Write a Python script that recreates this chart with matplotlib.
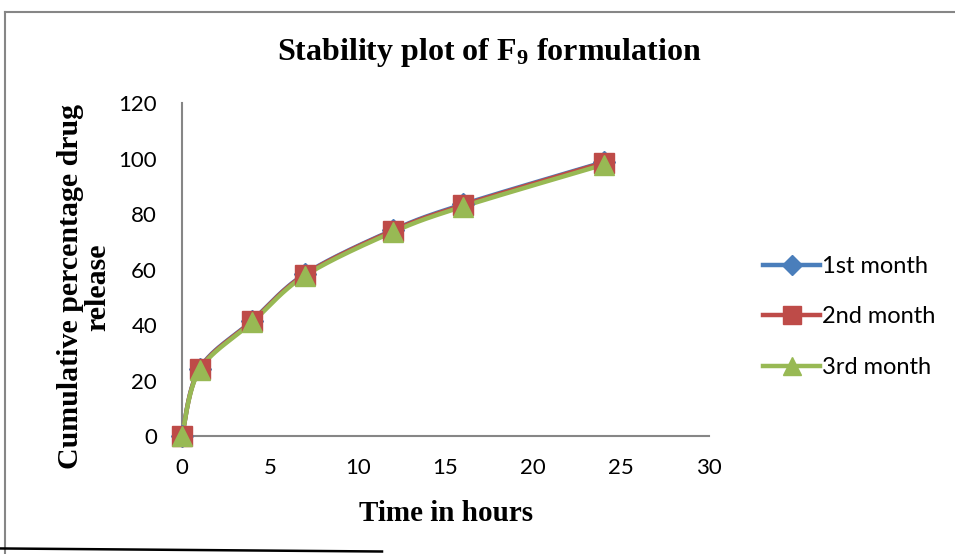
import matplotlib
matplotlib.use("Agg")
import matplotlib.pyplot as plt
import numpy as np
from matplotlib.lines import Line2D

# data
hours = [0, 1, 4, 7, 12, 16, 24]
month1 = [0, 24.3, 41.6, 58.4, 74.2, 83.5, 98.7]
month2 = [0, 24.1, 41.4, 58.2, 74.0, 83.2, 98.5]
month3 = [0, 23.8, 41.0, 57.8, 73.5, 82.7, 97.8]
labels = ["1st month", "2nd month", "3rd month"]

colors = ["#4a7ebb", "#be4b48", "#98b954"]
markers = ["D", "s", "^"]
msizes = [11, 14, 15]

serif = "Liberation Serif"
sans = "Lato"

plt.rcParams["mathtext.fontset"] = "custom"
plt.rcParams["mathtext.rm"] = "Liberation Serif:bold"
plt.rcParams["mathtext.it"] = "Liberation Serif:bold"
plt.rcParams["mathtext.bf"] = "Liberation Serif:bold"


def smooth(x, y, n=30):
    # Excel-style smoothed line: cubic bezier with Catmull-Rom control points
    pts = np.column_stack([x, y]).astype(float)
    ext = np.vstack([pts[0], pts, pts[-1]])
    out = [pts[0]]
    t = np.linspace(0, 1, n)[1:, None]
    for i in range(1, len(ext) - 2):
        p0, p1, p2, p3 = ext[i - 1], ext[i], ext[i + 1], ext[i + 2]
        c1 = p1 + (p2 - p0) / 6
        c2 = p2 - (p3 - p1) / 6
        seg = ((1 - t) ** 3) * p1 + 3 * ((1 - t) ** 2) * t * c1 + 3 * (1 - t) * t ** 2 * c2 + t ** 3 * p2
        out.extend(seg)
    out = np.array(out)
    return out[:, 0], out[:, 1]


fig = plt.figure(figsize=(9.55, 5.54), dpi=100)
ax = fig.add_axes([0.1906, 0.213, 0.5518, 0.601])

for vals, c, m, ms in zip([month1, month2, month3], colors, markers, msizes):
    sx, sy = smooth(hours, vals)
    ax.plot(sx, sy, color=c, lw=3.2, solid_capstyle="round", zorder=3)
    ax.plot(hours, vals, ls="none", marker=m, ms=ms, color=c, zorder=4, clip_on=False)

ax.set_xlim(0, 30)
ax.set_ylim(0, 120)
ax.set_xticks(range(0, 31, 5))
ax.set_yticks(range(0, 121, 20))
ax.tick_params(length=0, labelsize=16)
ax.tick_params(axis="x", pad=16)
ax.tick_params(axis="y", pad=18)
for lab in ax.get_xticklabels() + ax.get_yticklabels():
    lab.set_fontfamily(sans)
for s in ["top", "right"]:
    ax.spines[s].set_visible(False)
for s in ["left", "bottom"]:
    ax.spines[s].set_color("#868686")
    ax.spines[s].set_linewidth(1.5)

fig.text(0.512, 0.905, "Stability plot of F$_9$ formulation", ha="center", va="center",
         fontsize=23, fontweight="bold", fontfamily=serif)
fig.text(0.4675, 0.074, "Time in hours", ha="center", va="center",
         fontsize=21, fontweight="bold", fontfamily=serif)
fig.text(0.088, 0.482, "Cumulative percentage drug\nrelease", ha="center", va="center",
         rotation=90, fontsize=21.5, fontweight="bold", fontfamily=serif, linespacing=1.0)

handles = [Line2D([], [], color=c, lw=3.2, marker=m, ms=ms * 0.9)
           for c, m, ms in zip(colors, markers, msizes)]
fig.legend(handles, labels, loc="center left", bbox_to_anchor=(0.777, 0.428),
           frameon=False, prop={"family": sans, "size": 17}, handlelength=2.4,
           handletextpad=0.1, labelspacing=1.25)

# chart border
fig.add_artist(Line2D([0.0055, 0.0055], [0.0, 0.978], color="#868686", lw=1.5))
fig.add_artist(Line2D([0.0055, 1.0], [0.978, 0.978], color="#868686", lw=1.5))
fig.add_artist(Line2D([0.0, 0.4], [0.01, 0.0045], color="black", lw=1.8))

fig.savefig("out.png", dpi=100)
